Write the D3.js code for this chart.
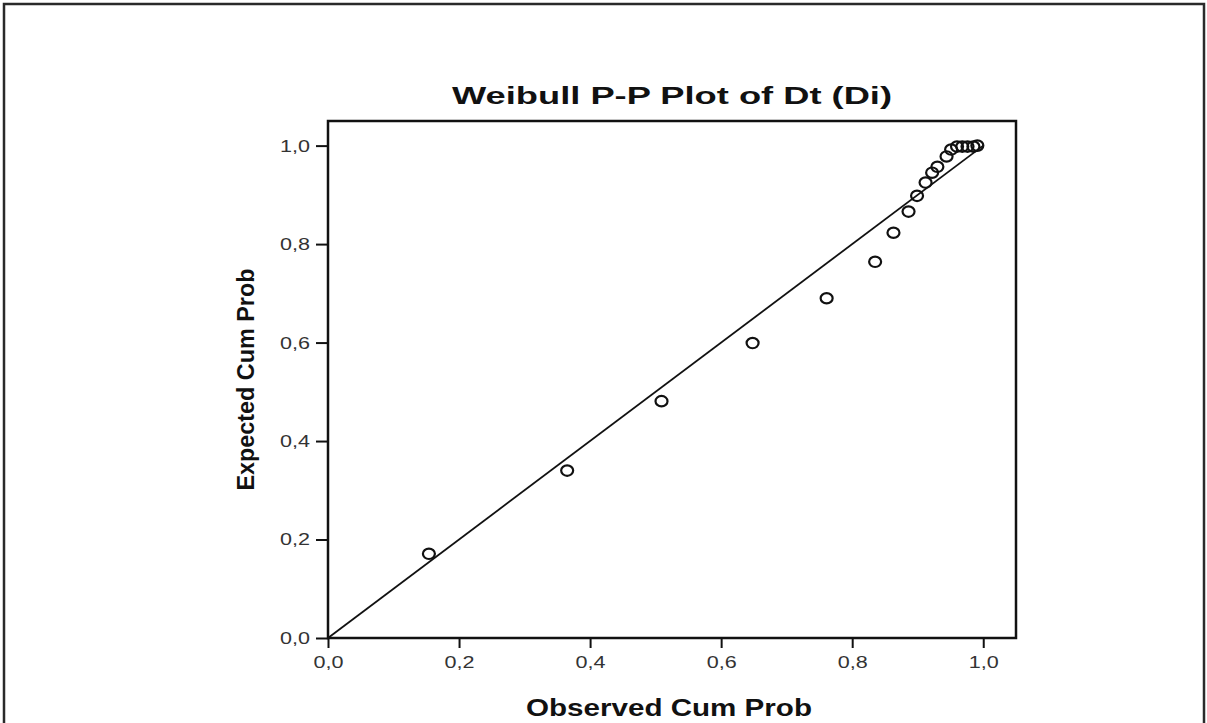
<!DOCTYPE html>
<html>
<head>
<meta charset="utf-8">
<script src="https://cdn.jsdelivr.net/npm/d3@7"></script>
<style>
  html, body { margin: 0; padding: 0; background: #fff; }
  svg { display: block; }
  text { font-family: Arial, "Liberation Sans", Helvetica, sans-serif; }
</style>
</head>
<body>
<svg id="chart" width="1207" height="723"></svg>
<script>
// ---- data ----
const chartTitle = "Weibull P-P Plot of Dt (Di)";
const xTitle = "Observed Cum Prob";
const yTitle = "Expected Cum Prob";
const observedCumProb = [0.154, 0.365, 0.509, 0.648, 0.761, 0.835, 0.863, 0.886, 0.899, 0.912, 0.922, 0.930, 0.944, 0.951, 0.960, 0.968, 0.976, 0.985, 0.991];
const expectedCumProb = [0.171, 0.340, 0.481, 0.599, 0.690, 0.764, 0.823, 0.866, 0.898, 0.925, 0.945, 0.957, 0.978, 0.992, 0.998, 0.998, 0.998, 0.998, 1.000];
const xTicks = [0, 0.2, 0.4, 0.6, 0.8, 1.0];
const yTicks = [0, 0.2, 0.4, 0.6, 0.8, 1.0];
const refLine = [[0, 0], [1, 1]];

// ---- layout ----
const svg = d3.select("#chart");
const plot = { left: 328, right: 1016, top: 121, bottom: 638 };

// outer frame
svg.append("rect")
  .attr("x", 4).attr("y", 4)
  .attr("width", 1200).attr("height", 730)
  .attr("fill", "none").attr("stroke", "#2a2a2a").attr("stroke-width", 2.5);

const x = d3.scaleLinear().domain([0, 1.05]).range([plot.left, plot.right]);
const y = d3.scaleLinear().domain([0, 1.05]).range([plot.bottom, plot.top]);

const loc = d3.formatLocale({ decimal: ",", thousands: ".", grouping: [3], currency: ["", ""] });
const fmt = loc.format(".1f");

// title
svg.append("text")
  .attr("x", (plot.left + plot.right) / 2).attr("y", 104)
  .attr("text-anchor", "middle")
  .attr("font-size", 23).attr("font-weight", "bold")
  .attr("textLength", 440).attr("lengthAdjust", "spacingAndGlyphs")
  .attr("fill", "#111")
  .text(chartTitle);

// x axis
const xAxis = d3.axisBottom(x).tickValues(xTicks).tickFormat(fmt).tickSize(10).tickPadding(8);
const gx = svg.append("g").attr("transform", `translate(0,${plot.bottom})`).call(xAxis);
gx.select(".domain").remove();
gx.selectAll(".tick line").attr("stroke", "#111").attr("stroke-width", 2);
gx.selectAll(".tick text")
  .attr("font-size", 17).attr("fill", "#333")
  .attr("font-family", "Arial, 'Liberation Sans', sans-serif")
  .attr("textLength", 30).attr("lengthAdjust", "spacingAndGlyphs");

// y axis
const yAxis = d3.axisLeft(y).tickValues(yTicks).tickFormat(fmt).tickSize(12).tickPadding(6);
const gy = svg.append("g").attr("transform", `translate(${plot.left},0)`).call(yAxis);
gy.select(".domain").remove();
gy.selectAll(".tick line").attr("stroke", "#111").attr("stroke-width", 2);
gy.selectAll(".tick text")
  .attr("font-size", 17).attr("fill", "#333")
  .attr("font-family", "Arial, 'Liberation Sans', sans-serif")
  .attr("textLength", 30).attr("lengthAdjust", "spacingAndGlyphs");

// plot frame
svg.append("rect")
  .attr("x", plot.left).attr("y", plot.top)
  .attr("width", plot.right - plot.left).attr("height", plot.bottom - plot.top)
  .attr("fill", "none").attr("stroke", "#111").attr("stroke-width", 2.5);

// reference line
svg.append("path")
  .datum(refLine)
  .attr("d", d3.line().x(d => x(d[0])).y(d => y(d[1])))
  .attr("fill", "none").attr("stroke", "#111").attr("stroke-width", 1.8);

// points
const pts = observedCumProb.map((o, i) => ({ o, e: expectedCumProb[i] }));
svg.append("g").selectAll("ellipse").data(pts).enter().append("ellipse")
  .attr("cx", d => x(d.o)).attr("cy", d => y(d.e))
  .attr("rx", 6).attr("ry", 5.2)
  .attr("fill", "none").attr("stroke", "#111").attr("stroke-width", 2.2);

// axis titles
svg.append("text")
  .attr("x", 669).attr("y", 716)
  .attr("text-anchor", "middle")
  .attr("font-size", 23).attr("font-weight", "bold")
  .attr("textLength", 286).attr("lengthAdjust", "spacingAndGlyphs")
  .attr("fill", "#111")
  .text(xTitle);

svg.append("text")
  .attr("transform", `translate(254,${(plot.top + plot.bottom) / 2}) rotate(-90)`)
  .attr("text-anchor", "middle")
  .attr("font-size", 23).attr("font-weight", "bold")
  .attr("textLength", 222).attr("lengthAdjust", "spacingAndGlyphs")
  .attr("fill", "#111")
  .text(yTitle);
</script>
</body>
</html>
